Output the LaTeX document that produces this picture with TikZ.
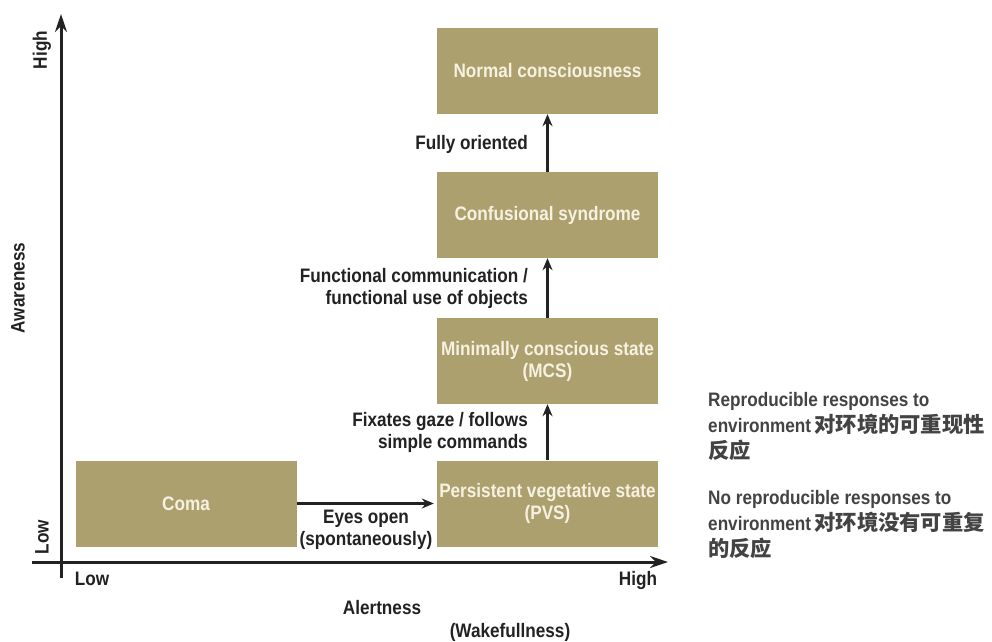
\documentclass[tikz,border=0pt]{standalone}
\usepackage{fontspec}
\setmainfont{Liberation Sans}[FakeStretch=0.88]
\newfontfamily\cjk{Noto Sans CJK SC}
\usetikzlibrary{arrows.meta}
\definecolor{boxfill}{HTML}{ACA06F}
\definecolor{boxtext}{HTML}{F6F1E0}
\definecolor{ink}{HTML}{222222}
\newcommand{\cjkbig}[1]{{\cjk\fontsize{21.3}{26}\selectfont #1}}
\begin{document}
\begin{tikzpicture}[x=1pt,y=-1pt,
  every node/.style={font=\bfseries\fontsize{19.5}{22}\selectfont, text=ink, inner sep=0pt},
  box/.style={fill=boxfill, minimum width=221pt, minimum height=86pt, text=boxtext, align=center},
  arr/.style={draw=ink, line width=2.6pt, -{Stealth[length=12pt,width=10pt]}},
  axis/.style={draw=ink, line width=3pt},
  lab/.style={align=right, anchor=east},
  side/.style={align=left, anchor=north west, font=\bfseries\fontsize{19.5}{26}\selectfont, text=ink!85}]
\useasboundingbox (0,0) rectangle (992,641);
\fill[white] (0,0) rectangle (992,641);
% axes
\coordinate (ybot) at (61,578);
\coordinate (ytop) at (61,14);
\coordinate (xl) at (32,562);
\coordinate (xr) at (668,562);
\draw[axis, -{Stealth[length=18pt,width=12pt]}] (ybot) -- (ytop);
\draw[axis, -{Stealth[length=18pt,width=12pt]}] (xl) -- (xr);
% boxes
\node[box] (normal) at (547.5,71) {Normal consciousness};
\node[box] (conf) at (547.5,215) {Confusional syndrome};
\node[box] (mcs) at (547.5,361) {Minimally conscious state\\(MCS)};
\node[box] (pvs) at (547.5,503.5) {Persistent vegetative state\\(PVS)};
\node[box] (coma) at (186,503.5) {Coma};
% arrows
\draw[arr] (pvs.north) -- (mcs.south);
\draw[arr] (mcs.north) -- (conf.south);
\draw[arr] (conf.north) -- (normal.south);
\draw[arr, shorten >=3pt] (coma.east) -- (pvs.west);
% arrow labels
\node[lab] (l1) at (528,144) {Fully oriented};
\node[lab] (l2) at (528,288) {Functional communication /\\functional use of objects};
\node[lab] (l3) at (528,432) {Fixates gaze / follows\\simple commands};
\node[align=center] (l4) at (366,530) {Eyes open\\(spontaneously)};
% axis labels
\node[rotate=90] (yhigh) at (42,50) {High};
\node[rotate=90] (ylow) at (42,537) {Low};
\node[rotate=90] (yname) at (18,288) {Awareness};
\node (xlow) at (92,579) {Low};
\node (xhigh) at (638,580) {High};
\node (xname) at (382,608) {Alertness};
\node (xsub) at (510,632) {(Wakefullness)};
% side notes
\node[side] (s1) at (708,392) {Reproducible responses to\\environment\,\cjkbig{对环境的可重现性}\\\cjkbig{反应}};
\node[side] (s2) at (708,490) {No reproducible responses to\\environment\,\cjkbig{对环境没有可重复}\\\cjkbig{的反应}};
\end{tikzpicture}
\end{document}
